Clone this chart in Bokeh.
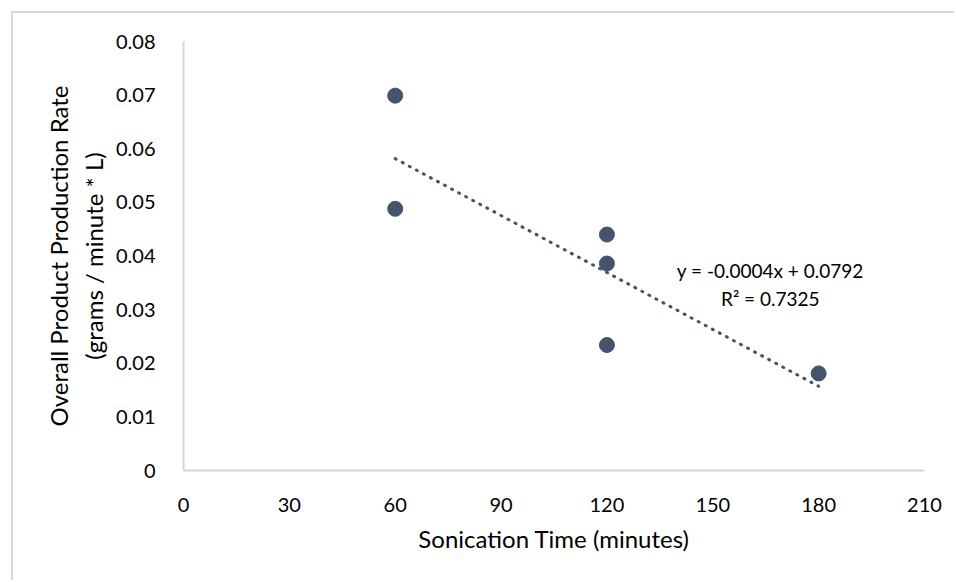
import numpy as np
from bokeh.plotting import figure
from bokeh.models import Range1d, Label, FixedTicker
from bokeh.embed import file_html
from bokeh.resources import INLINE

# Data
sonication_time = [60, 60, 120, 120, 120, 180]
production_rate = [0.0699, 0.0488, 0.0440, 0.0386, 0.0234, 0.0181]
x_ticks = [0, 30, 60, 90, 120, 150, 180, 210]
y_ticks = [0, 0.01, 0.02, 0.03, 0.04, 0.05, 0.06, 0.07, 0.08]
equation_text = "y = -0.0004x + 0.0792"
r2_text = "R\u00b2 = 0.7325"

FONT = "Lato"
COLOR = "#44546A"
AXIS = "#d6d6d6"

p = figure(width=943, height=569, output_backend="svg", toolbar_location=None,
           x_range=Range1d(0, 210), y_range=Range1d(0, 0.08),
           min_border_left=170, min_border_right=32, min_border_top=28, min_border_bottom=112)
p.margin = (11, 0, 0, 11)
p.styles = {"border-top": "2px solid #d9d9d9", "border-left": "2px solid #d9d9d9"}
p.outline_line_color = None
p.xgrid.visible = False
p.ygrid.visible = False

# trend line from least squares fit
coef = np.polyfit(sonication_time, production_rate, 1)
tx = np.array([min(sonication_time), max(sonication_time)], dtype=float)
ty = np.polyval(coef, tx)
p.line(tx, ty, line_color=COLOR, line_width=3, line_dash="1 7", line_cap="round")

p.scatter(sonication_time, production_rate, size=15, fill_color=COLOR, line_color=COLOR)

for ax in (p.xaxis[0], p.yaxis[0]):
    ax.axis_line_color = AXIS
    ax.axis_line_width = 2
    ax.major_tick_line_color = None
    ax.minor_tick_line_color = None
    ax.major_label_text_font = FONT
    ax.major_label_text_font_size = "20px"
    ax.major_label_text_color = "black"
    ax.axis_label_text_font = FONT
    ax.axis_label_text_font_size = "24px"
    ax.axis_label_text_font_style = "normal"
    ax.axis_label_text_color = "black"

p.xaxis.ticker = FixedTicker(ticks=x_ticks)
p.yaxis.ticker = FixedTicker(ticks=y_ticks)
p.yaxis.major_label_overrides = {t: ("0" if t == 0 else f"{t:.2f}") for t in y_ticks}
p.xaxis.major_label_standoff = 21
p.yaxis.major_label_standoff = 22
p.xaxis.axis_label = "Sonication Time (minutes)"
p.xaxis.axis_label_standoff = 9
p.yaxis.axis_label = "Overall Product Production Rate\n(grams / minute * L)"
p.yaxis.axis_label_standoff = 5

p.add_layout(Label(x=166.3, y=0.0373, text=equation_text, text_font=FONT,
                   text_font_size="19px", text_align="center", text_baseline="middle",
                   text_color="black"))
p.add_layout(Label(x=166.3, y=0.0321, text=r2_text, text_font=FONT,
                   text_font_size="19px", text_align="center", text_baseline="middle",
                   text_color="black"))

open("out.html", "w").write(file_html(p, INLINE))
